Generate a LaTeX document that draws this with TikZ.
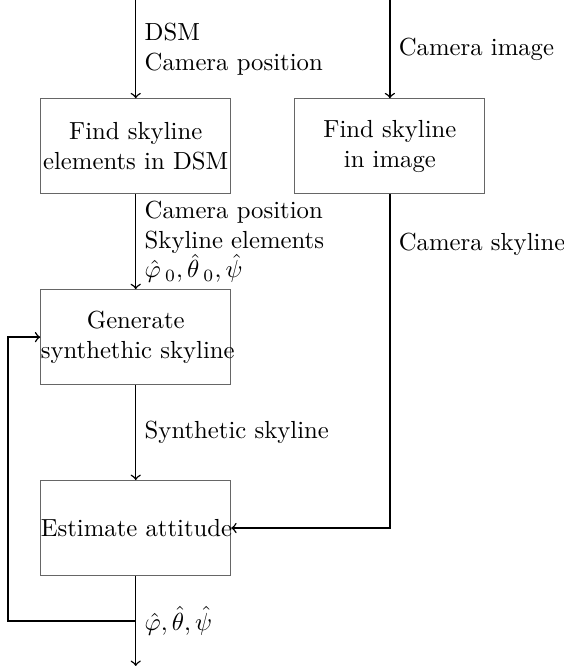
\documentclass[tikz,border=0pt]{standalone}
\usetikzlibrary{positioning}

\begin{document}
\begin{tikzpicture}[
  block/.style={draw=black!60, text width=2.7cm, minimum height=1.35cm, inner sep=0pt, align=center},
  flow/.style={->, semithick},
  lbl/.style={right, align=left}]
\useasboundingbox (0,0) rectangle (8.01,-9.47);
\node [block] (dsm) at (1.93,-2.08) {Find skyline\\elements in DSM};
\node [block, right=0.9cm of dsm] (img) {Find skyline\\in image};
\node [block, below=1.35cm of dsm] (gen) {Generate\\\mbox{synthethic skyline}};
\node [block, below=1.35cm of gen] (est) {\mbox{Estimate attitude}};
\coordinate (dsmin) at (dsm.north |- 0,0);
\coordinate (imgin) at (img.north |- 0,0);
\coordinate (out) at (est.south |- 0,-9.47);
\draw [flow] (dsmin) -- node [lbl] {DSM\\Camera position} (dsm);
\draw [flow] (imgin) -- node [lbl] {Camera image} (img);
\draw [flow] (dsm) -- node [lbl] {Camera position\\Skyline elements\\$\hat{\varphi}\,{}_0, \hat{\theta}\,{}_0, \hat{\psi}$} (gen);
\draw [flow] (gen) -- node [lbl] {Synthetic skyline} (est);
\draw [flow] (img) |- node [lbl, pos=0.075] {Camera skyline} (est);
\draw [flow] (est) -- node [lbl] {$\hat{\varphi}, \hat{\theta}, \hat{\psi}$} coordinate (fb) (out);
\coordinate (fbcorner) at ([xshift=-0.46cm]est.west |- fb);
\draw [flow] (fb) -- (fbcorner) |- (gen);
\end{tikzpicture}
\end{document}
